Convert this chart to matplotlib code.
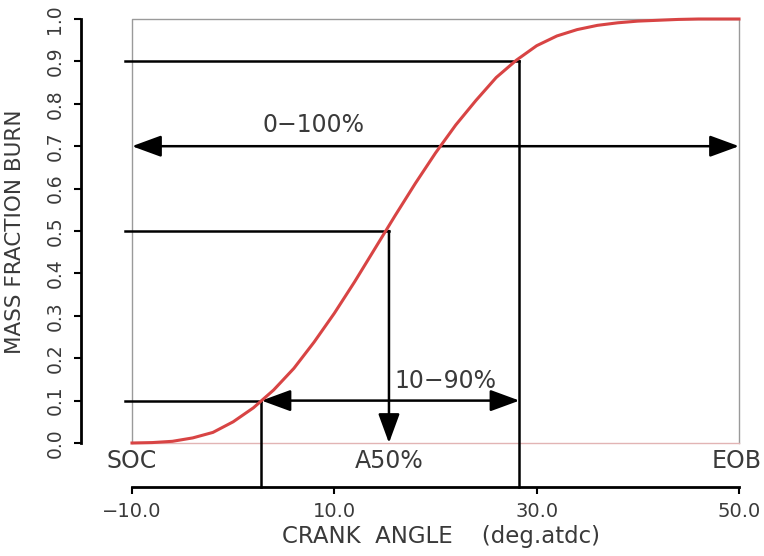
import matplotlib
matplotlib.use("Agg")
import matplotlib.pyplot as plt
from matplotlib import font_manager

# crank angle (deg atdc) and mass fraction burned
angle = [-10, -8, -6, -4, -2, 0, 2, 4, 6, 8, 10, 12, 14, 16, 18, 20,
         22, 24, 26, 28, 30, 32, 34, 36, 38, 40, 42, 44, 46, 48, 50]
mfb = [0.0, 0.001, 0.004, 0.012, 0.025, 0.050, 0.083, 0.125, 0.176, 0.238,
       0.306, 0.380, 0.458, 0.536, 0.612, 0.684, 0.750, 0.808, 0.862, 0.903,
       0.937, 0.960, 0.975, 0.985, 0.991, 0.995, 0.997, 0.999, 1.0, 1.0, 1.0]

# burn points
a10, a50, a90 = 2.8, 15.4, 28.3
f10, f50, f90 = 0.1, 0.5, 0.9
f_range = 0.7

xticks = [-10, 10, 30, 50]
yticks = [0.0, 0.1, 0.2, 0.3, 0.4, 0.5, 0.6, 0.7, 0.8, 0.9, 1.0]

txt = "#3a3a3a"
red = "#d84444"

names = {f.name for f in font_manager.fontManager.ttflist}
narrow = "Liberation Sans Narrow" if "Liberation Sans Narrow" in names else "DejaVu Sans"

fig = plt.figure(figsize=(7.64, 5.56), dpi=100)
ax = fig.add_axes([132 / 764, 113 / 556, 607 / 764, 424 / 556])
ax.set_xlim(-10, 50)
ax.set_ylim(0, 1)

for s in ("top", "right"):
    ax.spines[s].set_visible(False)
ax.spines["left"].set_position(("outward", 36.7))
ax.spines["bottom"].set_position(("outward", 31.7))
for s in ("left", "bottom"):
    ax.spines[s].set_linewidth(2.0)
    ax.spines[s].set_color("black")

ax.set_xticks(xticks)
ax.set_xticklabels([f"{v:.1f}".replace("-", "\u2212") for v in xticks])
ax.set_yticks(yticks)
ax.set_yticklabels([f"{v:.1f}" for v in yticks], rotation=90,
                   va="center", fontfamily=narrow)
ax.tick_params(axis="x", direction="out", length=5, width=1.5,
               pad=6, labelsize=14, labelcolor=txt)
ax.tick_params(axis="y", direction="out", length=5, width=1.5,
               pad=7, labelsize=13.5, labelcolor=txt)

# frame around the plotting area
ax.plot([-10, -10, 50, 50], [0, 1, 1, 0], color="#9a9a9a", lw=1.0, clip_on=False)
ax.plot([-10, 50], [0, 0], color="#e2b4b4", lw=1.0, clip_on=False)

# burn curve
ax.plot(angle, mfb, color=red, lw=2.2, clip_on=False, zorder=5,
        solid_joinstyle="round")

# guide lines for 10 / 50 / 90 %
line_kw = dict(color="black", lw=1.8, clip_on=False, zorder=4)
ax.plot([-10.65, a10], [f10, f10], **line_kw)
ax.plot([-10.65, a50], [f50, f50], **line_kw)
ax.plot([-10.65, a90], [f90, f90], **line_kw)
ax.plot([a10, a10], [f10, -0.104], **line_kw)
ax.plot([a90, a90], [f90, -0.104], **line_kw)

arrow = dict(arrowstyle="<|-|>,head_length=0.9,head_width=0.33",
             color="black", lw=1.8, shrinkA=0, shrinkB=0, mutation_scale=20)
ax.annotate("", xy=(50, f_range), xytext=(-10, f_range), arrowprops=arrow)
ax.annotate("", xy=(a90, f10), xytext=(a10, f10), arrowprops=arrow)
ax.annotate("", xy=(a50, 0.0), xytext=(a50, f50),
            arrowprops=dict(arrowstyle="-|>,head_length=0.9,head_width=0.33",
                            color="black", lw=1.8, shrinkA=0, shrinkB=0,
                            mutation_scale=20))

lab = dict(color=txt, fontsize=17, ha="center", va="center")
ax.text(7.9, 0.749, "0\u2212100%", **lab)
ax.text(21.0, 0.147, "10\u221290%", **lab)
ax.text(a50, -0.043, "A50%", **lab)
ax.text(-10, -0.043, "SOC", **lab)
ax.text(49.8, -0.043, "EOB", **lab)

fig.text(441 / 764, 1 - 536 / 556, "CRANK  ANGLE    (deg.atdc)",
         color=txt, fontsize=16.5, ha="center", va="center")
fig.text(15 / 764, 1 - 232 / 556, "MASS FRACTION BURN", rotation=90,
         color=txt, fontsize=15.5, ha="center", va="center")

fig.savefig("out.png", dpi=100)
